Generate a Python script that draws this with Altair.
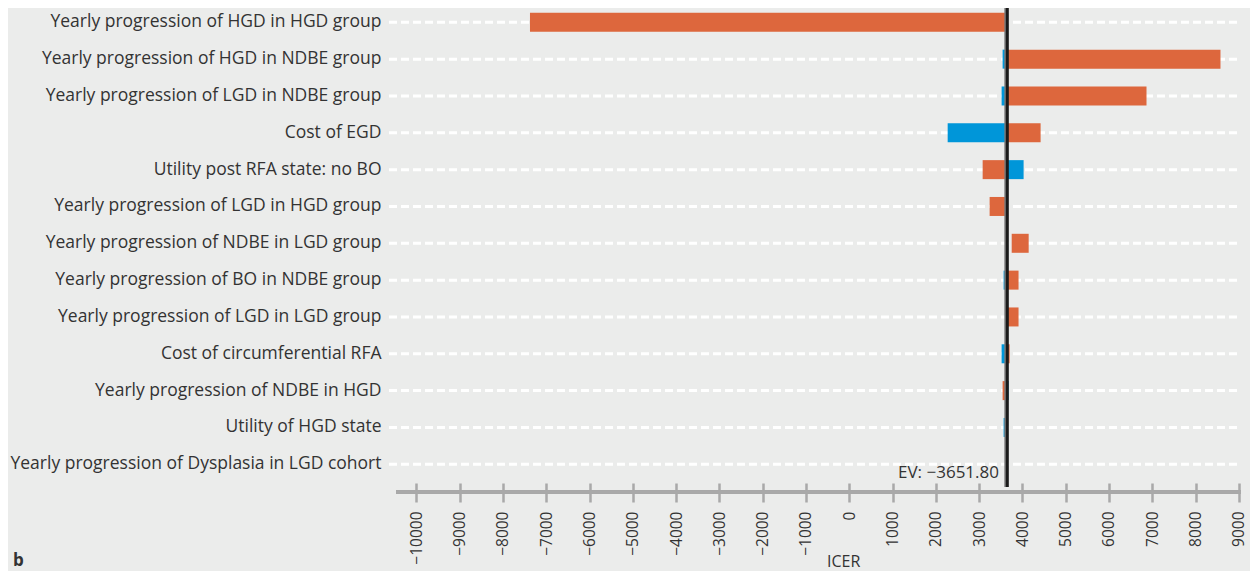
import altair as alt
import pandas as pd

params = [
    "Yearly progression of HGD in HGD group",
    "Yearly progression of HGD in NDBE group",
    "Yearly progression of LGD in NDBE group",
    "Cost of EGD",
    "Utility post RFA state: no BO",
    "Yearly progression of LGD in HGD group",
    "Yearly progression of NDBE in LGD group",
    "Yearly progression of BO in NDBE group",
    "Yearly progression of LGD in LGD group",
    "Cost of circumferential RFA",
    "Yearly progression of NDBE in HGD",
    "Utility of HGD state",
    "Yearly progression of Dysplasia in LGD cohort",
]
EV = 3651.80
orange_start = [-7375, EV, EV, EV, 3082, 3243, 3753, EV, EV, EV, 3543, None, None]
orange_end = [EV, 8576, 6867, 4421, EV, EV, 4145, 3911, 3911, 3705, EV, None, None]
blue_start = [None, 3543, 3520, 2274, EV, None, None, 3566, None, 3520, EV, 3566, None]
blue_end = [None, EV, EV, EV, 4028, None, None, EV, None, EV, 3682, EV, None]
x_ticks = list(range(-10000, 9001, 1000))

ORANGE = "#dd673d"
BLUE = "#0096d9"
BG = "#ebeceb"
TXT = "#333333"
AX = "#a9a9a9"
FONT = "Open Sans"

rows = []
for p, s, e in zip(params, orange_start, orange_end):
    if s is not None:
        rows.append({"param": p, "start": s, "end": e, "series": "orange"})
for p, s, e in zip(params, blue_start, blue_end):
    if s is not None:
        rows.append({"param": p, "start": s, "end": e, "series": "blue"})
bars_df = pd.DataFrame(rows)
grid_df = pd.DataFrame({"param": params})

step = 36.83
r0 = -4.1
yscale = alt.Scale(domain=params, range=[r0, r0 + step * len(params)], paddingInner=0, paddingOuter=0)
xscale = alt.Scale(domain=[-10470, 9050], nice=False, zero=False)

grid = alt.Chart(grid_df).mark_rule(color="white", strokeWidth=3, strokeDash=[8, 4]).encode(
    y=alt.Y("param:N", scale=yscale, sort=params,
            axis=alt.Axis(title=None, domain=False, ticks=False, grid=False,
                          labelPadding=15, labelFontSize=17.5, labelColor=TXT,
                          labelFont=FONT, labelLimit=0)),
    x=alt.value(-7),
    x2=alt.value(844),
)

bars = alt.Chart(bars_df).mark_bar(size=19).encode(
    y=alt.Y("param:N", scale=yscale, sort=params),
    x=alt.X("start:Q", scale=xscale,
            axis=alt.Axis(values=x_ticks, title=None, labelAngle=270, grid=False,
                          domain=False, tickColor=AX, tickWidth=2.5, tickSize=19,
                          labelPadding=9, labelFontSize=15.5, labelColor=TXT,
                          labelFont=FONT, format="d")),
    x2="end:Q",
    color=alt.Color("series:N", scale=alt.Scale(domain=["orange", "blue"], range=[ORANGE, BLUE]),
                    legend=None),
)

axis_line = alt.Chart(grid_df).mark_rule(color=AX, strokeWidth=2.5).encode(
    x=alt.value(0), x2=alt.value(845), y=alt.value(484)
)

ev_df = pd.DataFrame({"ev": [EV]})
ev_shadow = alt.Chart(ev_df).mark_rule(color="#7a7a7a", strokeWidth=2, xOffset=-2).encode(
    x=alt.X("ev:Q", scale=xscale), y=alt.value(-5), y2=alt.value(479)
)
ev_line = alt.Chart(ev_df).mark_rule(color="#1a1a1a", strokeWidth=3).encode(
    x=alt.X("ev:Q", scale=xscale), y=alt.value(-5), y2=alt.value(479)
)

ev_label = alt.Chart(ev_df).mark_text(align="right", baseline="alphabetic", fontSize=17,
                                      font=FONT, color=TXT).encode(
    x=alt.value(603), y=alt.value(470), text=alt.value("EV: −3651.80")
)
icer = alt.Chart(ev_df).mark_text(align="left", baseline="bottom", fontSize=16,
                                  font=FONT, color=TXT).encode(
    x=alt.value(431), y=alt.value(562), text=alt.value("ICER")
)
panel = alt.Chart(ev_df).mark_text(align="left", baseline="bottom", fontSize=17,
                                   fontWeight="bold", font=FONT, color=TXT).encode(
    x=alt.value(-383), y=alt.value(562), text=alt.value("b")
)

chart = alt.layer(grid, bars, axis_line, ev_shadow, ev_line, ev_label, icer, panel).properties(
    width=845, height=475,
    autosize=alt.AutoSizeParams(type="none"),
    padding={"left": 388, "top": 0, "right": 9, "bottom": 88},
    background=BG,
).configure_view(stroke=None, fill=BG)

chart.save("out.html", embed_options={"renderer": "svg", "actions": False})
